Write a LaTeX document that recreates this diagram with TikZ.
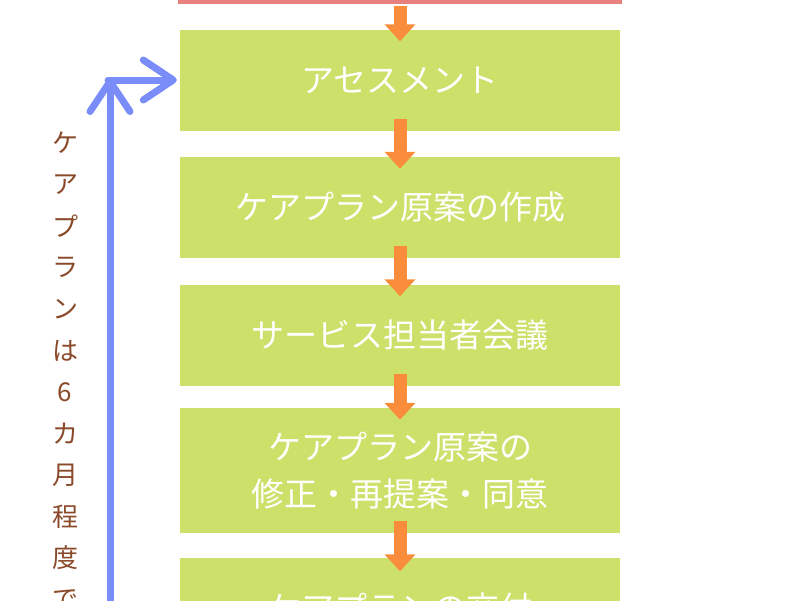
\documentclass[tikz,border=0pt]{standalone}
\usepackage{fontspec}
\setmainfont{Noto Sans CJK JP}
\usetikzlibrary{arrows.meta}
\definecolor{boxg}{HTML}{CCE06A}
\definecolor{arr}{HTML}{F98D3B}
\definecolor{blu}{HTML}{7A8CF7}
\definecolor{redb}{HTML}{E88080}
\definecolor{brn}{HTML}{8A4A2A}
\begin{document}
\begin{tikzpicture}[x=1pt,y=-1pt,
  stepbox/.style={fill=boxg,draw=none,minimum width=440pt,minimum height=101pt,inner sep=0pt,text=white,align=center,font=\fontsize{33}{47}\selectfont},
  flow/.style={draw=arr,line width=13pt,-{Triangle[width=30pt,length=17pt]}},
  loop/.style={draw=blu,line width=7pt,line cap=round,-{Straight Barb[length=30pt,width=40pt,line width=7pt,round]}}]
\useasboundingbox (0,0) rectangle (800,600);
\begin{scope}
\clip (0,0) rectangle (800,600);
\node[draw=redb,line width=4pt,fill=white,minimum width=440pt,minimum height=100pt,inner sep=0pt] (b0) at (400,-48) {};
\node[stepbox] (b1) at (400,80) {アセスメント};
\node[stepbox] (b2) at (400,207.5) {ケアプラン原案の作成};
\node[stepbox] (b3) at (400,335) {サービス担当者会議};
\node[stepbox,minimum height=125pt] (b4) at (400,470.5) {ケアプラン原案の\\修正・再提案・同意};
\node[stepbox] (b5) at (400,608) {ケアプランの交付};
\draw[flow] ([yshift=-2pt]b0.south) -- ([yshift=-12pt]b1.north);
\draw[flow] ([yshift=12pt]b1.south) -- ([yshift=-12pt]b2.north);
\draw[flow] ([yshift=12pt]b2.south) -- ([yshift=-12pt]b3.north);
\draw[flow] ([yshift=12pt]b3.south) -- ([yshift=-12pt]b4.north);
\draw[flow] ([yshift=12pt]b4.south) -- ([yshift=-14pt]b5.north);
\coordinate (vb) at (110,615);
\coordinate (vt) at (110,78);
\coordinate (hs) at (108,80);
\draw[loop] (vb) -- (vt);
\draw[loop] (hs) -- ([xshift=-3pt]b1.west);
\foreach \c [count=\i from 0] in {ケ,ア,プ,ラ,ン,は,6,カ,月,程,度,で}
  \node[text=brn,font=\fontsize{26}{26}\selectfont,inner sep=0pt] (v\i) at (65,143+41.5*\i) {\c};
\end{scope}
\end{tikzpicture}
\end{document}
